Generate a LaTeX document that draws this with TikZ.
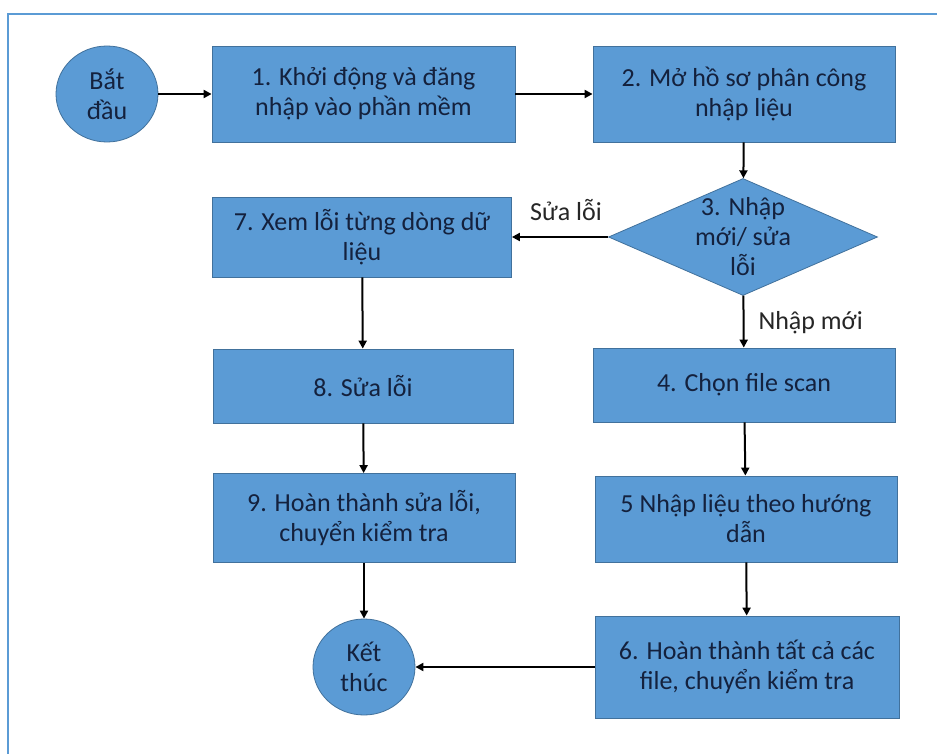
\documentclass[tikz,border=0pt]{standalone}
\usepackage{fontspec}
\setmainfont{Carlito}
\usetikzlibrary{shapes.geometric,arrows.meta}
\definecolor{boxblue}{HTML}{5B9BD5}
\definecolor{boxedge}{HTML}{41719C}
\definecolor{boxtext}{HTML}{14213D}

\begin{document}
\begin{tikzpicture}[x=1pt,y=-1pt,
  procbox/.style={rectangle,fill=boxblue,draw=boxedge,line width=0.8pt,text=boxtext,
    align=center,inner sep=0pt,font=\fontsize{26}{30}\selectfont},
  endpoint/.style={ellipse,fill=boxblue,draw=boxedge,line width=0.8pt,text=boxtext,
    align=center,inner sep=0pt,minimum width=102pt,minimum height=96pt,font=\fontsize{26}{30}\selectfont},
  decision/.style={diamond,fill=boxblue,draw=boxedge,line width=0.8pt,inner sep=0pt,
    minimum width=269pt,minimum height=117pt},
  flow/.style={-{Triangle[length=8pt,width=8pt]},line width=2pt,black},
  lbl/.style={text=black!85,font=\fontsize{26}{30}\selectfont}]
\useasboundingbox (0,0) rectangle (937,754);
\fill[white] (0,0) rectangle (937,754);

% frame
\draw[boxblue,line width=2.2pt] (8,754)--(8,14)--(937,14);

% top row
\node[endpoint] (start) at (107,94) {Bắt\\đầu};
\node[procbox,minimum width=303pt,minimum height=96pt] (s1) at (363.5,94) {1. Khởi động và đăng\\nhập vào phần mềm};
\node[procbox,minimum width=302pt,minimum height=96pt] (s2) at (744,94) {2. Mở hồ sơ phân công\\nhập liệu};

% decision
\node[decision] (s3) at (743,237) {};
\node[text=boxtext,align=center,font=\fontsize{26}{30}\selectfont] (s3t) at (s3) {3. Nhập\\mới/ sửa\\lỗi};

% right column
\node[procbox,minimum width=302pt,minimum height=74pt] (s4) at (744,385) {4. Chọn file scan};
\node[procbox,minimum width=302pt,minimum height=86pt] (s5) at (746,519) {5 Nhập liệu theo hướng\\dẫn};
\node[procbox,minimum width=304pt,minimum height=102pt] (s6) at (747,667) {6. Hoàn thành tất cả các\\file, chuyển kiểm tra};

% left column
\node[procbox,minimum width=299pt,minimum height=80pt] (s7) at (362,237) {7. Xem lỗi từng dòng dữ\\liệu};
\node[procbox,minimum width=300pt,minimum height=74pt] (s8) at (363,386) {8. Sửa lỗi};
\node[procbox,minimum width=302pt,minimum height=89pt] (s9) at (364,518) {9. Hoàn thành sửa lỗi,\\chuyển kiểm tra};
\node[endpoint] (stop) at (364,667) {Kết\\thúc};

% branch labels
\node[lbl] (fix) at (566,210) {Sửa lỗi};
\node[lbl,anchor=west] (new) at (755,323) {Nhập mới};

% connectors
\draw[flow] (start) -- (s1);
\draw[flow] (s1) -- (s2);
\draw[flow] (s2) -- (s3);
\draw[flow] (s3) -- (s7);
\draw[flow] (s3) -- (s4);
\draw[flow] (s4) -- (s5);
\draw[flow] (s5) -- (s6);
\draw[flow] (s7) -- (s8);
\draw[flow] (s8) -- (s9);
\draw[flow] (s9) -- (stop);
\draw[flow] (s6) -- (stop);
\end{tikzpicture}
\end{document}
